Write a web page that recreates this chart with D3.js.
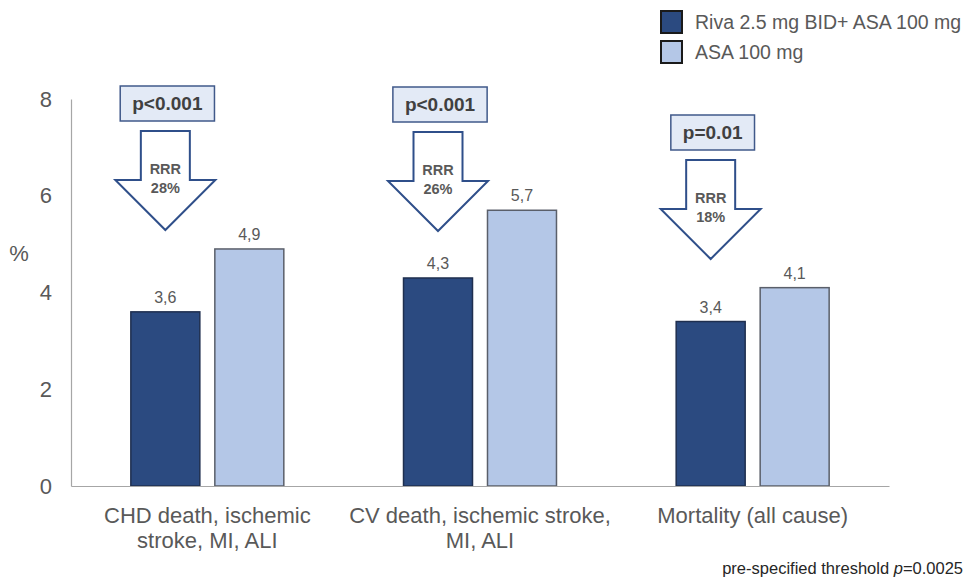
<!DOCTYPE html>
<html>
<head>
<meta charset="utf-8">
<script src="https://cdn.jsdelivr.net/npm/d3@7"></script>
<style>
  body { margin: 0; background: #fff; }
  svg { display: block; font-family: "Liberation Sans", Arial, sans-serif; }
</style>
</head>
<body>
<svg width="968" height="586"></svg>
<script>
// chart data
var categories = [
    ["CHD death, ischemic", "stroke, MI, ALI"],
    ["CV death, ischemic stroke,", "MI, ALI"],
    ["Mortality (all cause)"]
];
var seriesNames = ["Riva 2.5 mg BID+ ASA 100 mg", "ASA 100 mg"];
var rivaValues = [3.6, 4.3, 3.4];
var asaValues = [4.9, 5.7, 4.1];
var pLabels = ["p<0.001", "p<0.001", "p=0.01"];
var rrrLabels = ["28%", "26%", "18%"];
var yTicks = [0, 2, 4, 6, 8];

var colors = ["#2b4a80", "#b4c7e7"];
var textGray = "#595959";

var svg = d3.select("svg");

var x0 = d3.scaleBand()
    .domain(d3.range(categories.length))
    .range([71, 889]);

var x1 = d3.scaleBand()
    .domain(d3.range(seriesNames.length))
    .range([0, x0.bandwidth()])
    .paddingInner(0.1786)
    .paddingOuter(0.7126);

var y = d3.scaleLinear().domain([0, 8]).range([486, 99]);

// y axis
var yAxis = svg.append("g")
    .attr("transform", "translate(71,0)")
    .call(d3.axisLeft(y).tickValues(yTicks).tickSize(0).tickPadding(19));
yAxis.select(".domain").attr("stroke", "#a6a6a6").attr("stroke-width", 1.2);
yAxis.selectAll("text")
    .attr("fill", textGray)
    .style("font-size", "22px")
    .style("font-family", "Liberation Sans, Arial, sans-serif");

svg.append("text")
    .attr("x", 19).attr("y", 261)
    .attr("text-anchor", "middle")
    .attr("fill", textGray)
    .style("font-size", "22px")
    .text("%");

// bars
var groups = svg.append("g").selectAll("g")
    .data(categories.map(function(c, i) { return { i: i, vals: [rivaValues[i], asaValues[i]] }; }))
    .enter().append("g")
    .attr("transform", function(d) { return "translate(" + x0(d.i) + ",0)"; });

groups.selectAll("rect")
    .data(function(d) { return d.vals; })
    .enter().append("rect")
    .attr("x", function(d, j) { return x1(j); })
    .attr("y", function(d) { return y(d); })
    .attr("width", x1.bandwidth())
    .attr("height", function(d) { return y(0) - y(d); })
    .attr("fill", function(d, j) { return colors[j]; })
    .attr("stroke", function(d, j) { return j === 0 ? "#1f2f4f" : "#5a5f6a"; })
    .attr("stroke-width", 1.5);

groups.selectAll("text.val")
    .data(function(d) { return d.vals; })
    .enter().append("text")
    .attr("class", "val")
    .attr("x", function(d, j) { return x1(j) + x1.bandwidth() / 2; })
    .attr("y", function(d) { return y(d) - 9; })
    .attr("text-anchor", "middle")
    .attr("fill", textGray)
    .style("font-size", "16px")
    .text(function(d) { return String(d).replace(".", ","); });

// x baseline
var xAxis = svg.append("g")
    .attr("transform", "translate(0," + y(0) + ")")
    .call(d3.axisBottom(x0).tickSize(0).tickFormat(""));
xAxis.select(".domain").attr("stroke", "#a6a6a6").attr("stroke-width", 1.2);

// category labels
var catLabels = svg.append("g").selectAll("text")
    .data(categories)
    .enter().append("text")
    .attr("x", function(d, i) { return x0(i) + x0.bandwidth() / 2; })
    .attr("y", 523)
    .attr("text-anchor", "middle")
    .attr("fill", textGray)
    .style("font-size", "22px");
catLabels.selectAll("tspan")
    .data(function(d) { return d; })
    .enter().append("tspan")
    .attr("x", function() { return d3.select(this.parentNode).attr("x"); })
    .attr("dy", function(d, k) { return k === 0 ? 0 : 25; })
    .text(function(d) { return d; });

// p-value boxes and RRR arrows
var boxTop = [86, 87, 115];
var annot = svg.append("g").selectAll("g")
    .data(categories.map(function(c, i) { return i; }))
    .enter().append("g")
    .attr("transform", function(i) {
        var cx = x0(i) + x1(0) + x1.bandwidth() / 2;
        return "translate(" + cx + "," + boxTop[i] + ")";
    });

annot.each(function(i) {
    var g = d3.select(this);
    var box = g.append("rect");
    var t = g.append("text")
        .attr("x", 2).attr("y", 24)
        .attr("text-anchor", "middle")
        .attr("fill", "#404040")
        .style("font-size", "19px")
        .style("font-weight", "bold")
        .text(pLabels[i]);
    var w = t.node().getComputedTextLength() + 24;
    box.attr("x", 2 - w / 2).attr("y", 0)
        .attr("width", w).attr("height", 35)
        .attr("fill", "#e3eaf6")
        .attr("stroke", "#40598a")
        .attr("stroke-width", 1.5);

    var top = 45, sw = 24.5, hw = 50, sh = 49, hh = 50;
    var pts = [[-sw, top], [sw, top], [sw, top + sh], [hw, top + sh],
               [0, top + sh + hh], [-hw, top + sh], [-sw, top + sh]];
    g.append("path")
        .attr("d", d3.line()(pts) + "Z")
        .attr("fill", "#fff")
        .attr("stroke", "#2f4f8a")
        .attr("stroke-width", 2);
    g.append("text")
        .attr("x", 0).attr("y", top + 43)
        .attr("text-anchor", "middle")
        .attr("fill", textGray)
        .style("font-size", "14.5px")
        .style("font-weight", "bold")
        .text("RRR");
    g.append("text")
        .attr("x", 0).attr("y", top + 62)
        .attr("text-anchor", "middle")
        .attr("fill", textGray)
        .style("font-size", "14.5px")
        .style("font-weight", "bold")
        .text(rrrLabels[i]);
});

// legend
var legend = svg.append("g").selectAll("g")
    .data(seriesNames)
    .enter().append("g")
    .attr("transform", function(d, i) { return "translate(661," + (11 + i * 30) + ")"; });
legend.append("rect")
    .attr("width", 21).attr("height", 22)
    .attr("fill", function(d, i) { return colors[i]; })
    .attr("stroke", "#1a1a1a")
    .attr("stroke-width", 2);
legend.append("text")
    .attr("x", 34).attr("y", 18)
    .attr("fill", textGray)
    .style("font-size", "19.5px")
    .text(function(d) { return d; });

// footnote
var foot = svg.append("text")
    .attr("x", 963).attr("y", 574)
    .attr("text-anchor", "end")
    .attr("fill", "#262626")
    .style("font-size", "16.5px");
foot.append("tspan").text("pre-specified threshold ");
foot.append("tspan").style("font-style", "italic").text("p");
foot.append("tspan").text("=0.0025");
</script>
</body>
</html>
